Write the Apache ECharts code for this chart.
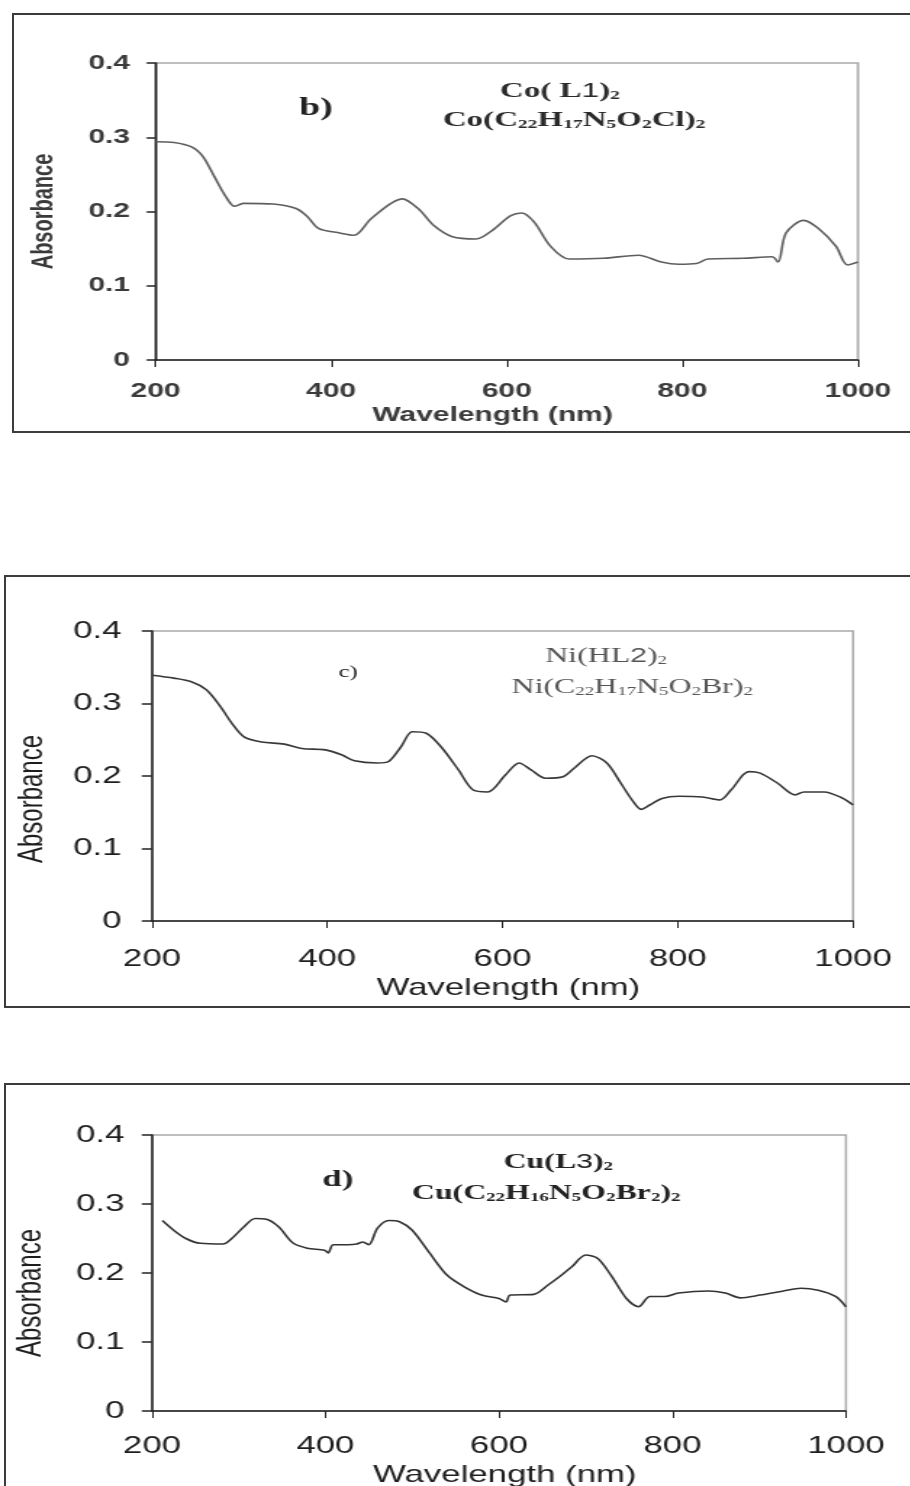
<!DOCTYPE html>
<html>
<head>
<meta charset="utf-8">
<script src="https://cdn.jsdelivr.net/npm/echarts@6/dist/echarts.min.js"></script>
<style>
  html, body { margin: 0; padding: 0; width: 910px; height: 1486px; overflow: hidden; background: #fff; }
  .frame { position: absolute; box-sizing: border-box; border: 2px solid #3c3c3c; }
  .chart { position: absolute; left: 0; transform-origin: 0 0; }
</style>
</head>
<body>
<div class="frame" style="left:12px;top:13px;width:940px;height:420px"></div>
<div class="frame" style="left:4px;top:575px;width:940px;height:433px"></div>
<div class="frame" style="left:4px;top:1083px;width:940px;height:500px"></div>

<!-- the source picture is stretched sideways, so each chart is drawn narrow and scaled in x -->
<div id="chartB" class="chart" style="top:0;width:607px;height:440px;transform:scaleX(1.5)"></div>
<div id="chartC" class="chart" style="top:570px;width:628px;height:440px;transform:scaleX(1.45)"></div>
<div id="chartD" class="chart" style="top:1080px;width:628px;height:406px;transform:scaleX(1.45)"></div>

<script>
  // axis ranges
  const waveRange = [200, 1000]
  const waveStep = 200
  const absRange = [0, 0.4]
  const absStep = 0.1

  // b) Co(L1)2
  const coWave = [200, 221, 241, 254, 267, 280, 290, 300, 334, 360, 373, 386, 410, 426, 446, 481, 499, 518, 538, 565, 584, 604, 617, 631, 650, 671, 710, 750, 776, 796, 816, 829, 869, 902, 909, 918, 938, 955, 975, 988, 1000]
  const coAbs = [0.294, 0.293, 0.287, 0.274, 0.247, 0.220, 0.207, 0.211, 0.210, 0.204, 0.193, 0.177, 0.171, 0.168, 0.191, 0.217, 0.204, 0.180, 0.166, 0.163, 0.175, 0.194, 0.198, 0.186, 0.153, 0.136, 0.137, 0.141, 0.132, 0.129, 0.130, 0.136, 0.137, 0.139, 0.132, 0.171, 0.188, 0.177, 0.153, 0.128, 0.132]

  // c) Ni(HL2)2
  const niWave = [200, 225, 245, 262, 278, 291, 305, 325, 351, 371, 398, 417, 431, 457, 470, 484, 497, 513, 530, 550, 566, 583, 603, 619, 633, 649, 669, 682, 702, 719, 735, 749, 758, 768, 782, 801, 828, 848, 861, 881, 894, 914, 934, 944, 967, 987, 1000]
  const niAbs = [0.339, 0.335, 0.330, 0.319, 0.296, 0.273, 0.254, 0.247, 0.244, 0.238, 0.236, 0.229, 0.221, 0.218, 0.220, 0.240, 0.261, 0.259, 0.240, 0.208, 0.181, 0.178, 0.201, 0.218, 0.208, 0.197, 0.199, 0.211, 0.228, 0.218, 0.190, 0.165, 0.154, 0.160, 0.169, 0.172, 0.171, 0.167, 0.181, 0.206, 0.204, 0.190, 0.174, 0.178, 0.178, 0.170, 0.160]

  // d) Cu(L3)2
  const cuWave = [212, 225, 239, 256, 282, 292, 306, 319, 332, 346, 363, 379, 399, 403, 409, 426, 436, 443, 450, 460, 473, 486, 500, 520, 540, 560, 580, 600, 608, 613, 640, 657, 670, 684, 700, 714, 730, 747, 761, 774, 791, 807, 841, 861, 878, 901, 928, 948, 968, 988, 1000]
  const cuAbs = [0.276, 0.262, 0.250, 0.243, 0.242, 0.250, 0.267, 0.279, 0.278, 0.267, 0.243, 0.236, 0.233, 0.229, 0.241, 0.241, 0.242, 0.245, 0.241, 0.265, 0.276, 0.274, 0.262, 0.229, 0.197, 0.180, 0.168, 0.163, 0.158, 0.168, 0.169, 0.183, 0.195, 0.209, 0.226, 0.221, 0.195, 0.163, 0.151, 0.166, 0.166, 0.171, 0.174, 0.171, 0.164, 0.168, 0.174, 0.178, 0.175, 0.166, 0.151]

  const SANS = 'Liberation Sans, Arial, sans-serif'
  const SERIF = 'Liberation Serif, Times New Roman, serif'

  function pairs(xs, ys) {
    var out = []
    for (var i = 0; i < xs.length; i++) {
      out.push([xs[i], ys[i]])
    }
    return out
  }

  function formula(text, x, y, size, color, bold) {
    var w = bold ? 'bold' : 'normal'
    return {
      type: 'text',
      x: x,
      y: y,
      style: {
        text: text,
        align: 'center',
        verticalAlign: 'middle',
        rich: {
          m: { fontFamily: SERIF, fontSize: size, fontWeight: w, fill: color },
          n: { fontFamily: SANS, fontSize: size - 1, fill: color, verticalAlign: 'bottom' },
          s: { fontFamily: SERIF, fontSize: Math.round(size * 0.6), fontWeight: w, fill: color, verticalAlign: 'bottom' }
        }
      }
    }
  }

  function panelOption(p) {
    var txt = { fontFamily: SANS, fontSize: p.font, fontWeight: p.weight, color: p.textColor }
    return {
      animation: false,
      grid: {
        left: p.grid[0], right: p.grid[1], top: p.grid[2], bottom: p.grid[3],
        show: true, borderColor: '#a9a9a9', borderWidth: 1.5,
        outerBoundsMode: 'none'
      },
      xAxis: {
        type: 'value',
        min: waveRange[0], max: waveRange[1], interval: waveStep,
        name: 'Wavelength (nm)',
        nameLocation: 'middle',
        nameGap: p.xNameGap,
        nameTextStyle: Object.assign({ padding: p.xNamePad }, txt),
        axisLine: { onZero: false, lineStyle: { color: '#222', width: 1.5 } },
        axisTick: { length: 7, lineStyle: { color: '#222', width: 1 } },
        splitLine: { show: false },
        axisLabel: Object.assign({ margin: p.xLabelMargin, formatter: function (v) { return String(v) } }, txt)
      },
      yAxis: {
        type: 'value',
        min: absRange[0], max: absRange[1], interval: absStep,
        name: 'Absorbance',
        nameLocation: 'middle',
        nameRotate: 90,
        nameGap: p.yNameGap,
        nameTextStyle: Object.assign({ padding: p.yNamePad }, txt),
        axisLine: { show: true, lineStyle: { color: '#222', width: 1.5 } },
        axisTick: { show: true, length: p.yTick, lineStyle: { color: '#222', width: 1.5 } },
        splitLine: { show: false },
        axisLabel: Object.assign({ margin: p.yLabelMargin }, txt)
      },
      series: [{
        type: 'line',
        data: p.data,
        smooth: 0.3,
        showSymbol: false,
        lineStyle: { color: p.lineColor, width: 1.6 }
      }],
      graphic: p.notes
    }
  }

  var chartB = echarts.init(document.getElementById('chartB'))
  chartB.setOption(panelOption({
    grid: [103.7, 35, 63, 80],
    font: 20,
    weight: 'bold',
    textColor: '#3a3a3a',
    lineColor: '#5e5e5e',
    xLabelMargin: 21, xNameGap: 42, xNamePad: [0, 19, 0, 0],
    yLabelMargin: 17, yNameGap: 64, yNamePad: [0, 0, 0, 0], yTick: 6,
    data: pairs(coWave, coAbs),
    notes: [
      { type: 'text', x: 210.7, y: 109, style: { text: 'b)', align: 'center', verticalAlign: 'middle', fontFamily: SERIF, fontSize: 25, fontWeight: 'bold', fill: '#222' } },
      formula('{m|Co( L}{n|1}{m|)}{s|2}', 373.3, 91, 22, '#2a2a2a', true),
      formula('{m|Co(C}{s|22}{m|H}{s|17}{m|N}{s|5}{m|O}{s|2}{m|Cl)}{s|2}', 382.7, 120, 22, '#2a2a2a', true)
    ]
  }))

  var chartC = echarts.init(document.getElementById('chartC'))
  chartC.setOption(panelOption({
    grid: [104.8, 39.7, 61, 89],
    font: 24,
    weight: 'normal',
    textColor: '#1e1e1e',
    lineColor: '#383838',
    xLabelMargin: 26, xNameGap: 48, xNamePad: [0, 0, 0, 8],
    yLabelMargin: 21, yNameGap: 70, yNamePad: [0, 46, 0, 0], yTick: 7,
    data: pairs(niWave, niAbs),
    notes: [
      { type: 'text', x: 240, y: 103, style: { text: 'c)', align: 'center', verticalAlign: 'middle', fontFamily: SERIF, fontSize: 17, fill: '#222' } },
      formula('{m|Ni(HL}{n|2}{m|)}{s|2}', 418, 86, 22, '#555', false),
      formula('{m|Ni(C}{s|22}{m|H}{s|17}{m|N}{s|5}{m|O}{s|2}{m|Br)}{s|2}', 436, 117, 22, '#555', false)
    ]
  }))

  var chartD = echarts.init(document.getElementById('chartD'))
  chartD.setOption(panelOption({
    grid: [104.8, 44.6, 55, 75],
    font: 24,
    weight: 'normal',
    textColor: '#1e1e1e',
    lineColor: '#333',
    xLabelMargin: 23, xNameGap: 47, xNamePad: [0, 0, 0, 8],
    yLabelMargin: 19, yNameGap: 71, yNamePad: [0, 40, 0, 0], yTick: 7,
    data: pairs(cuWave, cuAbs),
    notes: [
      { type: 'text', x: 233, y: 100, style: { text: 'd)', align: 'center', verticalAlign: 'middle', fontFamily: SERIF, fontSize: 24, fontWeight: 'bold', fill: '#222' } },
      formula('{m|Cu(L}{n|3}{m|)}{s|2}', 385, 82, 22, '#222', true),
      formula('{m|Cu(C}{s|22}{m|H}{s|16}{m|N}{s|5}{m|O}{s|2}{m|Br}{s|2}{m|)}{s|2}', 376.6, 113, 22, '#222', true)
    ]
  }))
</script>
</body>
</html>
